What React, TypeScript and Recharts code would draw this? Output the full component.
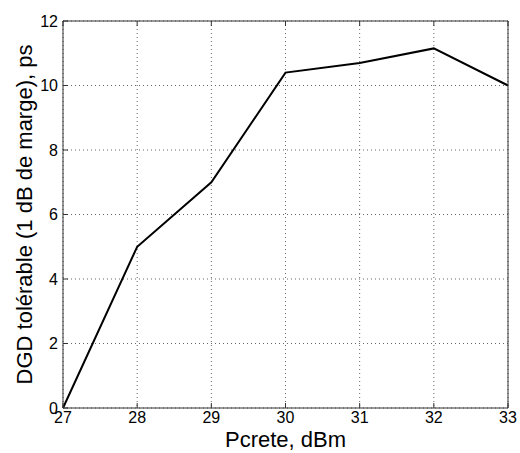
import { LineChart, Line, XAxis, YAxis, CartesianGrid, Label } from "recharts";

const puissance = [27, 28, 29, 30, 31, 32, 33];
const dgdTolerable = [0, 5.0, 7.0, 10.4, 10.7, 11.15, 10.0];
const xTicks = [27, 28, 29, 30, 31, 32, 33];
const yTicks = [0, 2, 4, 6, 8, 10, 12];

const data = puissance.map((p, i) => ({ p, dgd: dgdTolerable[i] }));

const font = "Arial, 'Liberation Sans', sans-serif";
const axisColor = "#333";
const noLabel = () => <g />;

const App = () => {
  return (
    <div style={{ position: "absolute", left: 0, top: 0, background: "#fff" }}>
      <LineChart width={520} height={453} data={data} margin={{ top: 20, right: 11, bottom: 0, left: 0 }}>
        <CartesianGrid stroke="#666" strokeDasharray="1 3" />
        <XAxis
          dataKey="p"
          type="number"
          domain={[27, 33]}
          ticks={xTicks}
          height={45}
          stroke={axisColor}
          tickSize={-5}
          tickMargin={9}
          tick={{ fontSize: 16, fill: "#000", fontFamily: font }}
        >
          <Label value="Pcrete, dBm" position="insideBottom" offset={6} style={{ fontSize: 22, fill: "#000", fontFamily: font }} />
        </XAxis>
        <XAxis
          xAxisId="top"
          dataKey="p"
          type="number"
          orientation="top"
          domain={[27, 33]}
          ticks={xTicks}
          height={1}
          stroke={axisColor}
          tickSize={-5}
          tick={noLabel}
        />
        <YAxis
          type="number"
          domain={[0, 12]}
          ticks={yTicks}
          width={63}
          stroke={axisColor}
          tickSize={-5}
          tickMargin={10}
          tick={{ fontSize: 16, fill: "#000", fontFamily: font }}
        >
          <Label
            value="DGD tolérable (1 dB de marge), ps"
            angle={-90}
            position="insideLeft"
            offset={24}
            style={{ textAnchor: "middle", fontSize: 22, fill: "#000", fontFamily: font }}
          />
        </YAxis>
        <YAxis
          yAxisId="right"
          type="number"
          orientation="right"
          domain={[0, 12]}
          ticks={yTicks}
          width={1}
          stroke={axisColor}
          tickSize={-5}
          tick={noLabel}
        />
        <Line
          type="linear"
          dataKey="dgd"
          stroke="#000"
          strokeWidth={2}
          dot={false}
          isAnimationActive={false}
        />
      </LineChart>
    </div>
  );
};

export default App;
